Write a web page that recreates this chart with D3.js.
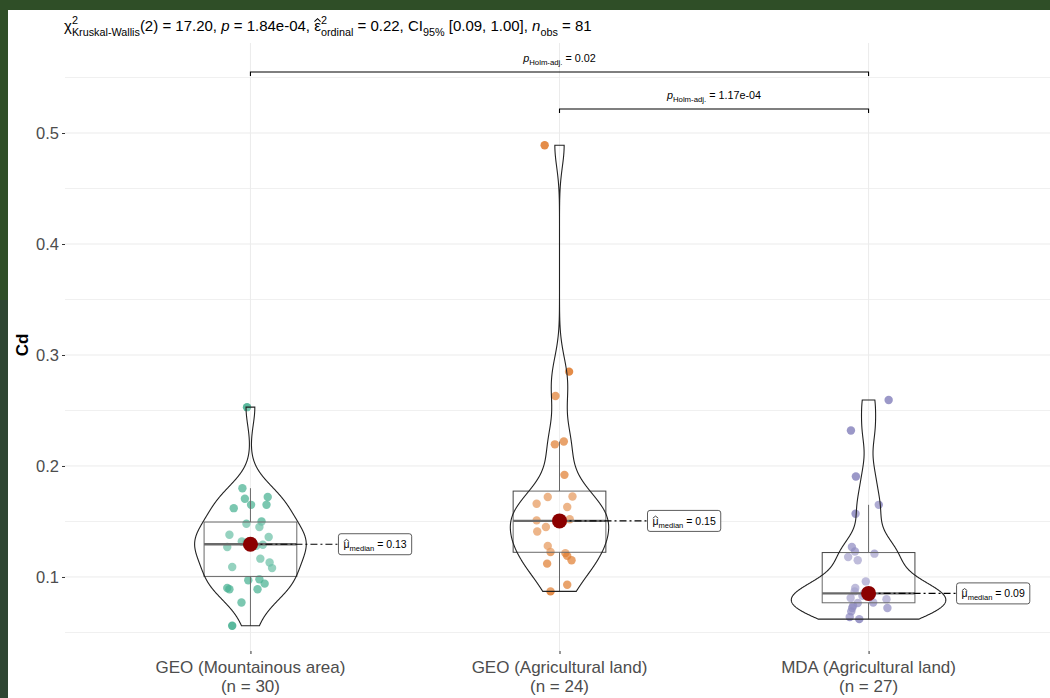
<!DOCTYPE html>
<meta charset='utf-8'>
<style>
    html, body {
        margin: 0;
        background: #2f4e27;
    }
    svg text {
        font-family: 'Liberation Sans', Arial, sans-serif;
    }
</style>
<title>Cd by group</title>
<body>
<script src='https://cdn.jsdelivr.net/npm/d3@7/dist/d3.min.js'></script>
<script>

	// groups and counts
	const groups = ['GEO (Mountainous area)', 'GEO (Agricultural land)', 'MDA (Agricultural land)'];
	const groupN = ['(n = 30)', '(n = 24)', '(n = 27)'];
	const colors = ['#1B9E77', '#D95F02', '#7570B3'];

	// Cd values, with their jitter (in category units)
	const cdGeoMountain = [0.253, 0.180, 0.172, 0.1705, 0.165, 0.165, 0.162, 0.150, 0.148, 0.145,
		0.138, 0.136, 0.132, 0.129, 0.127, 0.109, 0.1165, 0.113, 0.108, 0.097,
		0.098, 0.094, 0.090, 0.089, 0.089, 0.077, 0.056, 0.130, 0.131, 0.128];
	const jitGeoMountain = [-0.011, -0.026, 0.056, -0.018, 0.052, 0.002, -0.054, 0.036, -0.013, 0.029,
		-0.068, 0.059, -0.028, 0.040, -0.075, -0.059, 0.032, 0.062, 0.070, -0.007,
		0.029, 0.046, -0.075, -0.068, 0.023, -0.029, -0.059, 0.010, -0.013, 0.019];

	const cdGeoAgri = [0.489, 0.285, 0.263, 0.2195, 0.222, 0.192, 0.172, 0.1725, 0.166, 0.163,
		0.151, 0.152, 0.145, 0.141, 0.128, 0.1225, 0.1215, 0.119, 0.115, 0.112,
		0.093, 0.087, 0.150, 0.149];
	const jitGeoAgri = [-0.048, 0.031, -0.013, -0.015, 0.014, 0.016, -0.038, 0.042, -0.074, 0.025,
		-0.074, 0.033, -0.044, -0.072, -0.038, -0.029, 0.019, 0.025, 0.039, -0.040,
		0.025, -0.029, 0.010, -0.006];

	const cdMdaAgri = [0.2595, 0.232, 0.1905, 0.165, 0.157, 0.127, 0.123, 0.121, 0.118, 0.115,
		0.096, 0.090, 0.081, 0.080, 0.077, 0.072, 0.072, 0.069, 0.064, 0.062,
		0.074, 0.0765, 0.082, 0.083, 0.084, 0.0852, 0.087];
	const jitMdaAgri = [0.065, -0.057, -0.041, 0.033, -0.042, -0.054, -0.044, 0.019, -0.066, -0.035,
		-0.009, -0.043, -0.058, 0.058, 0.015, -0.053, 0.061, -0.056, -0.061, -0.030,
		-0.050, -0.035, 0.005, -0.020, 0.010, -0.015, -0.045];

	const medianLabels = ['0.13', '0.15', '0.09'];
	const yTicks = [0.1, 0.2, 0.3, 0.4, 0.5];
	const yMinor = [0.05, 0.15, 0.25, 0.35, 0.45, 0.55];

	// pairwise comparisons: group index from, to, p label, bracket level
	const pairFrom = [0, 1];
	const pairTo = [2, 2];
	const pairP = ['0.02', '1.17e-04'];
	const pairLevel = [0.555, 0.5216];

	const values = [cdGeoMountain, cdGeoAgri, cdMdaAgri];
	const jitters = [jitGeoMountain, jitGeoAgri, jitMdaAgri];

	let width = 1050, height = 698;
	let panel = {left: 65, right: 1054, top: 43, bottom: 651};

	let svg = d3.select('body').append('svg')
		.attr('width', width)
		.attr('height', height)
		.style('display', 'block');

	// photo edge round the plot
	svg.append('rect').attr('width', width).attr('height', height).attr('fill', '#2f4e27');
	svg.append('rect').attr('x', 0).attr('width', 9).attr('y', 300).attr('height', 398).attr('fill', '#2e4532');
	svg.append('rect').attr('x', 8).attr('y', 10).attr('width', width - 8).attr('height', height - 10).attr('fill', 'white');

	let x = d3.scalePoint()
		.domain(groups)
		.range([panel.left, panel.right])
		.padding(0.6);

	let y = d3.scaleLinear()
		.domain([0.0333, 0.5811])
		.range([panel.bottom, panel.top]);

	// grid
	let grid = svg.append('g');
	grid.selectAll('.minor').data(yMinor).enter().append('line')
		.attr('x1', panel.left).attr('x2', width)
		.attr('y1', d => y(d)).attr('y2', d => y(d))
		.attr('stroke', '#f0f0f0').attr('stroke-width', 1);
	grid.selectAll('.major').data(yTicks).enter().append('line')
		.attr('x1', panel.left).attr('x2', width)
		.attr('y1', d => y(d)).attr('y2', d => y(d))
		.attr('stroke', '#ebebeb').attr('stroke-width', 1);
	grid.selectAll('.vert').data(groups).enter().append('line')
		.attr('x1', d => x(d)).attr('x2', d => x(d))
		.attr('y1', panel.top).attr('y2', panel.bottom)
		.attr('stroke', '#ebebeb').attr('stroke-width', 1);

	// axes
	let yAxis = svg.append('g')
		.attr('transform', 'translate(' + panel.left + ',0)')
		.call(d3.axisLeft(y).tickValues(yTicks).tickFormat(d3.format('.1f')).tickSize(3).tickPadding(3));
	yAxis.select('.domain').remove();
	yAxis.selectAll('line').attr('stroke', '#333');
	yAxis.selectAll('text').attr('fill', '#4d4d4d').style('font-size', '16.5px');

	let xAxis = svg.append('g')
		.attr('transform', 'translate(0,' + panel.bottom + ')')
		.call(d3.axisBottom(x).tickSize(3).tickFormat(''));
	xAxis.select('.domain').remove();
	xAxis.selectAll('line').attr('stroke', '#333');
	groups.forEach(function (g, i) {
		let t = svg.append('text')
			.attr('x', x(g)).attr('y', 673)
			.attr('text-anchor', 'middle')
			.attr('fill', '#4d4d4d')
			.style('font-size', '17px');
		t.append('tspan').attr('x', x(g)).text(g);
		t.append('tspan').attr('x', x(g)).attr('dy', 19).text(groupN[i]);
	});

	svg.append('text')
		.attr('transform', 'translate(28,345) rotate(-90)')
		.attr('text-anchor', 'middle')
		.style('font-size', '17px')
		.style('font-weight', 'bold')
		.text('Cd');

	// stats
	function bwNrd0(v) {
		let s = d3.deviation(v);
		let iqr = d3.quantile(v, 0.75) - d3.quantile(v, 0.25);
		return 0.9 * Math.min(s, iqr / 1.34) * Math.pow(v.length, -0.2);
	}

	function kde(v) {
		let bw = bwNrd0(v), lo = d3.min(v), hi = d3.max(v);
		return d3.range(512).map(function (i) {
			let yy = lo + (hi - lo) * i / 511;
			let dens = d3.mean(v, function (d) {
				return Math.exp(-0.5 * Math.pow((yy - d) / bw, 2));
			}) / (bw * Math.sqrt(2 * Math.PI));
			return [yy, dens];
		});
	}

	let dens = values.map(kde);
	let maxDens = d3.max(dens, function (ds) { return d3.max(ds, d => d[1]); });
	let step = x.step();

	// jittered points
	groups.forEach(function (g, i) {
		svg.append('g').selectAll('circle')
			.data(values[i])
			.enter().append('circle')
			.attr('cx', (d, j) => x(g) + jitters[i][j] * step)
			.attr('cy', d => y(d))
			.attr('r', 4.2)
			.attr('fill', colors[i])
			.attr('fill-opacity', 0.72);
	});

	// boxplots
	groups.forEach(function (g, i) {
		let v = values[i].slice().sort(d3.ascending);
		let q1 = d3.quantile(v, 0.25), med = d3.quantile(v, 0.5), q3 = d3.quantile(v, 0.75);
		let iqr = q3 - q1;
		let hiW = d3.max(v.filter(d => d <= q3 + 1.5 * iqr));
		let loW = d3.min(v.filter(d => d >= q1 - 1.5 * iqr));
		let bw = 0.3 * step, cx = x(g);
		let b = svg.append('g').attr('stroke', '#444').attr('stroke-width', 1);
		b.append('line').attr('x1', cx).attr('x2', cx).attr('y1', y(q3)).attr('y2', y(hiW));
		b.append('line').attr('x1', cx).attr('x2', cx).attr('y1', y(q1)).attr('y2', y(loW));
		b.append('rect')
			.attr('x', cx - bw / 2).attr('width', bw)
			.attr('y', y(q3)).attr('height', y(q1) - y(q3))
			.attr('fill', 'white').attr('fill-opacity', 0.2);
		b.append('line').attr('x1', cx - bw / 2).attr('x2', cx + bw / 2)
			.attr('y1', y(med)).attr('y2', y(med)).attr('stroke-width', 2.4);
	});

	// violins
	groups.forEach(function (g, i) {
		let cx = x(g);
		let half = d => d[1] / maxDens * 0.25 * step;
		let pts = dens[i].map(d => [cx + half(d), y(d[0])])
			.concat(dens[i].slice().reverse().map(d => [cx - half(d), y(d[0])]));
		svg.append('path')
			.attr('d', d3.line()(pts) + 'Z')
			.attr('fill', 'white').attr('fill-opacity', 0.2)
			.attr('stroke', '#222').attr('stroke-width', 1.1);
	});

	// math-ish text: pieces laid out one after another
	function richText(parent, x0, y0, pieces, size) {
		let g = parent.append('g');
		let cx = x0;
		pieces.forEach(function (p) {
			if (p.sup !== undefined || p.sub !== undefined) {
				let w = 0;
				if (p.sup !== undefined) {
					let t = g.append('text').attr('x', cx).attr('y', y0 - size * 0.48)
						.style('font-size', (size * 0.72) + 'px').text(p.sup);
					w = Math.max(w, t.node().getComputedTextLength());
				}
				if (p.sub !== undefined) {
					let t = g.append('text').attr('x', cx).attr('y', y0 + size * 0.3)
						.style('font-size', (size * 0.72) + 'px').text(p.sub);
					w = Math.max(w, t.node().getComputedTextLength());
				}
				cx += w;
			} else {
				let t = g.append('text').attr('x', cx).attr('y', y0)
					.style('font-size', size + 'px')
					.style('font-style', p.it ? 'italic' : 'normal')
					.attr('xml:space', 'preserve')
					.text(p.s);
				let w = t.node().getComputedTextLength();
				if (p.hat) {
					let top = y0 - size * 0.62;
					g.append('path')
						.attr('d', 'M' + (cx + 0.3) + ',' + top + 'L' + (cx + w / 2) + ',' + (top - size * 0.2)
							+ 'L' + (cx + w - 0.3) + ',' + top)
						.attr('fill', 'none').attr('stroke', 'black').attr('stroke-width', size * 0.07);
				}
				cx += w;
			}
		});
		return {g: g, width: cx - x0};
	}

	// subtitle
	richText(svg, 64, 31, [
		{s: 'χ'}, {sup: '2', sub: 'Kruskal-Wallis'}, {s: '(2) = 17.20, '},
		{s: 'p', it: true}, {s: ' = 1.84e-04, '},
		{s: 'ε', hat: true}, {sup: '2', sub: 'ordinal'}, {s: ' = 0.22, CI'},
		{sub: '95%'}, {s: ' [0.09, 1.00], '},
		{s: 'n', it: true}, {sub: 'obs'}, {s: ' = 81'}
	], 15);

	// pairwise brackets
	pairFrom.forEach(function (f, k) {
		let x1 = x(groups[f]), x2 = x(groups[pairTo[k]]), yl = y(pairLevel[k]);
		svg.append('path')
			.attr('d', 'M' + x1 + ',' + (yl + 4) + 'V' + yl + 'H' + x2 + 'V' + (yl + 4))
			.attr('fill', 'none').attr('stroke', 'black').attr('stroke-width', 1.1);
		let lab = richText(svg, 0, yl - 10, [
			{s: 'p', it: true}, {sub: 'Holm-adj.'}, {s: ' = ' + pairP[k]}
		], 10.8);
		lab.g.attr('transform', 'translate(' + ((x1 + x2) / 2 - lab.width / 2) + ',0)');
	});

	// medians with labels
	groups.forEach(function (g, i) {
		let med = d3.median(values[i]);
		let cx = x(g), cy = y(med);
		let lx = cx + 88;
		svg.append('line')
			.attr('x1', cx).attr('x2', lx).attr('y1', cy).attr('y2', cy)
			.attr('stroke', 'black').attr('stroke-width', 1.1)
			.attr('stroke-dasharray', '7,3,2,3');
		svg.append('circle')
			.attr('cx', cx).attr('cy', cy).attr('r', 7.5)
			.attr('fill', '#8B0000');
		let box = svg.append('rect')
			.attr('x', lx).attr('y', cy - 10.5).attr('height', 21).attr('rx', 2.5)
			.attr('fill', 'white').attr('stroke', '#333').attr('stroke-width', 0.8);
		let lab = richText(svg, lx + 5, cy + 3.8, [
			{s: 'μ', hat: true}, {sub: 'median'}, {s: ' = ' + medianLabels[i]}
		], 10.5);
		box.attr('width', lab.width + 10);
	});

</script>
</body>
